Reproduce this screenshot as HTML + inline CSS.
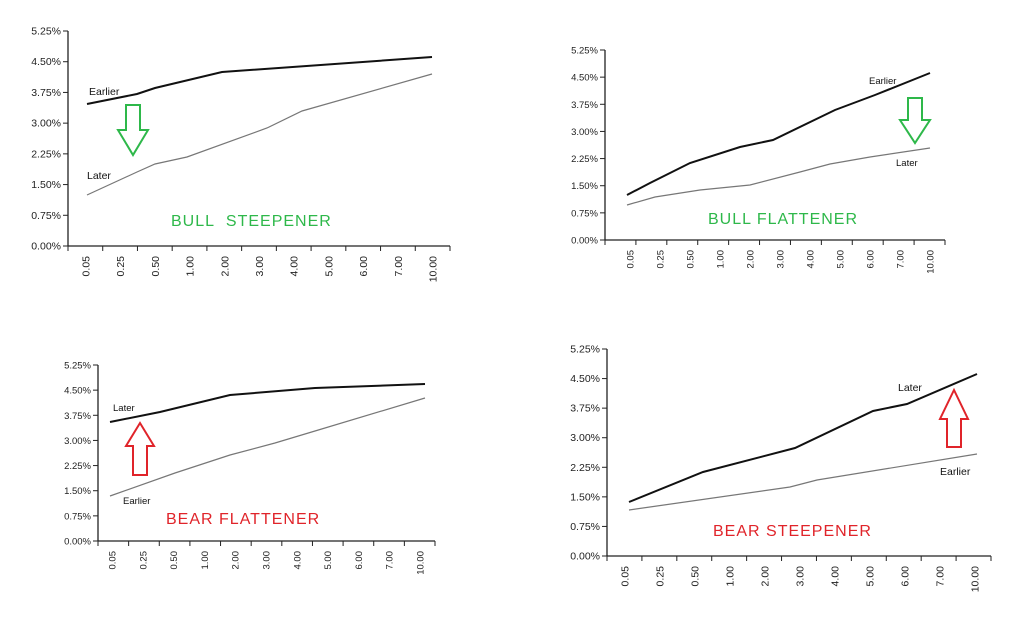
<!DOCTYPE html>
<html><head><meta charset="utf-8"><style>
html,body{margin:0;padding:0;background:#fff;width:1024px;height:620px;overflow:hidden}
svg{position:absolute;left:0;top:0}
text{font-family:"Liberation Sans",Arial,sans-serif}
</style></head><body>
<svg id="s" width="1024" height="620" viewBox="0 0 1024 620" xmlns="http://www.w3.org/2000/svg"></svg>
<script>
const S=document.getElementById('s');let h='';
const labs=['0.05','0.25','0.50','1.00','2.00','3.00','4.00','5.00','6.00','7.00','10.00'];
const yl=['0.00%','0.75%','1.50%','2.25%','3.00%','3.75%','4.50%','5.25%'];
function chart(c){
 const {ax,top,bot,xend,l0,l1,fs}=c;
 h+=`<line x1="${ax}" y1="${top}" x2="${ax}" y2="${bot}" stroke="#222" stroke-width="1.3"/>`;
 h+=`<line x1="${ax}" y1="${bot}" x2="${xend}" y2="${bot}" stroke="#222" stroke-width="1.3"/>`;
 for(let i=0;i<8;i++){const y=bot-(bot-top)*i/7;
  h+=`<line x1="${ax-5}" y1="${y}" x2="${ax}" y2="${y}" stroke="#222"/>`;
  h+=`<text x="${ax-7}" y="${y+3.5}" font-size="${fs}" text-anchor="end" fill="#222">${yl[i]}</text>`;}
 const st=(xend-ax)/11;
 for(let i=0;i<=11;i++){const x=ax+st*i;h+=`<line x1="${x}" y1="${bot}" x2="${x}" y2="${bot+5}" stroke="#222"/>`;}
 for(let i=0;i<11;i++){const x=l0+(l1-l0)*i/10;
  h+=`<text transform="translate(${x+3.5},${bot+10}) rotate(-90)" font-size="${fs}" text-anchor="end" fill="#222">${labs[i]}</text>`;}
 h+=`<polyline points="${c.b}" fill="none" stroke="#111" stroke-width="2"/>`;
 h+=`<polyline points="${c.g}" fill="none" stroke="#777" stroke-width="1.2"/>`;
 for(const t of c.t)h+=`<text x="${t[0]}" y="${t[1]}" font-size="${fs}" fill="#111">${t[2]}</text>`;
 const a=c.arr;const col=a.col;
 if(a.down)h+=`<polygon points="${a.x-7},${a.y0} ${a.x+7},${a.y0} ${a.x+7},${a.hy} ${a.x+15},${a.hy} ${a.x},${a.tip} ${a.x-15},${a.hy} ${a.x-7},${a.hy}" fill="none" stroke="${col}" stroke-width="2"/>`;
 else h+=`<polygon points="${a.x-7},${a.y0} ${a.x+7},${a.y0} ${a.x+7},${a.hy} ${a.x+14},${a.hy} ${a.x},${a.tip} ${a.x-14},${a.hy} ${a.x-7},${a.hy}" fill="none" stroke="${col}" stroke-width="2"/>`;
 h+=`<text x="${c.title[0]}" y="${c.title[1]}" font-size="16" fill="${col}" letter-spacing="1">${c.title[2]}</text>`;
}
chart({ax:68,top:31,bot:246,xend:450,l0:86,l1:433,fs:10.5,
 b:"87,104 137,94 155,88 222,72 432,57",
 g:"87,195 137,172 155,164 187,157 267,128 302,111 432,74",
 t:[[89,95,'Earlier'],[87,179,'Later']],
 arr:{x:133,y0:105,hy:130,tip:155,col:'#2eb84a',down:1},
 title:[171,226,'BULL&#160;&#160;STEEPENER']});
chart({ax:605,top:50,bot:240,xend:945,l0:630,l1:930,fs:9.5,
 b:"627,195 650,183 690,163 740,147 773,140 835,110 875,95 930,73",
 g:"627,205 655,197 700,190 750,185 800,172 830,164 870,157 930,148",
 t:[[869,84,'Earlier'],[896,166,'Later']],
 arr:{x:915,y0:98,hy:120,tip:143,col:'#2eb84a',down:1},
 title:[708,224,'BULL FLATTENER']});
chart({ax:98,top:365,bot:541,xend:435,l0:112,l1:420,fs:9.5,
 b:"110,422 160,412 230,395 315,388 425,384",
 g:"110,496 175,473 230,455 275,443 315,431 425,398",
 t:[[113,411,'Later'],[123,504,'Earlier']],
 arr:{x:140,y0:475,hy:446,tip:423,col:'#e0242a',down:0},
 title:[166,524,'BEAR FLATTENER']});
chart({ax:607,top:349,bot:556,xend:991,l0:625,l1:975,fs:10.5,
 b:"629,502 703,472 795,448 873,411 907,404 977,374",
 g:"629,510 790,487 817,480 977,454",
 t:[[898,391,'Later'],[940,475,'Earlier']],
 arr:{x:954,y0:447,hy:419,tip:390,col:'#e0242a',down:0},
 title:[713,536,'BEAR STEEPENER']});
S.innerHTML=h;
</script>
</body></html>
